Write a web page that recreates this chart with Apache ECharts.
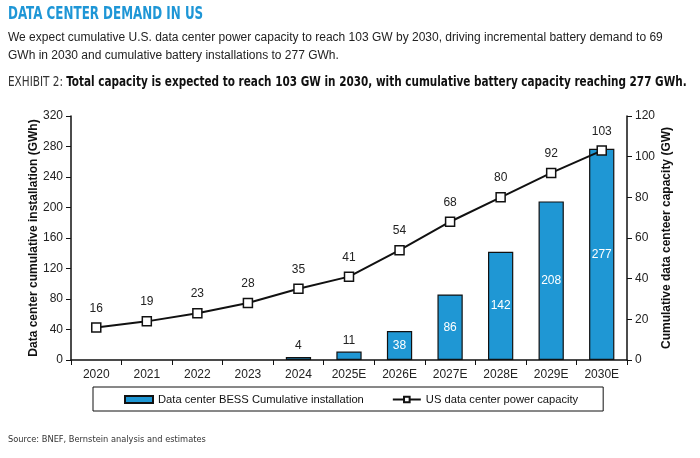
<!DOCTYPE html>
<html>
<head>
<meta charset="utf-8">
<script src="https://cdn.jsdelivr.net/npm/echarts@6/dist/echarts.min.js"></script>
<style>
  html, body { margin: 0; padding: 0; background: #fff; }
  #chart { width: 700px; height: 458px; }
</style>
</head>
<body>
<div id="chart"></div>
<script>
// data
var years = ["2020", "2021", "2022", "2023", "2024", "2025E", "2026E", "2027E", "2028E", "2029E", "2030E"];
var bessGWh = [null, null, null, null, 4, 11, 38, 86, 142, 208, 277];
var powerGW = [16, 19, 23, 28, 35, 41, 54, 68, 80, 92, 103];
var leftTicks = { min: 0, max: 320, interval: 40 };
var rightTicks = { min: 0, max: 120, interval: 20 };

var blue = "#1f97d4";
var font = "Liberation Sans";
var cond = "DejaVu Sans Condensed";

// small bars get their label on top, bigger ones inside in white
var barData = bessGWh.map(function (v) {
  if (v == null) return null;
  if (v < 20) {
    return { value: v, label: { position: "top", color: "#222" } };
  }
  return v;
});

var chart = echarts.init(document.getElementById("chart"));

var option = {
  backgroundColor: "#fff",
  animation: false,
  textStyle: { fontFamily: font },
  // header lines are squeezed a bit to mimic the narrow house font
  graphic: [
    {
      type: "text", left: 8, top: 6, scaleX: 0.78,
      style: {
        text: "DATA CENTER DEMAND IN US",
        fontFamily: cond, fontSize: 17, fontWeight: "bold", fill: "#1e96d6"
      }
    },
    {
      type: "text", left: 8, top: 75, scaleX: 0.831,
      style: {
        text: "{a|EXHIBIT 2: }{b|Total capacity is expected to reach 103 GW in 2030, with cumulative battery capacity reaching 277 GWh.}",
        rich: {
          a: { fontFamily: cond, fontSize: 14, fill: "#333" },
          b: { fontFamily: cond, fontSize: 14, fontWeight: "bold", fill: "#111" }
        }
      }
    }
  ],
  title: [
    {
      text: "We expect cumulative U.S. data center power capacity to reach 103 GW by 2030, driving incremental battery demand to 69\nGWh in 2030 and cumulative battery installations to 277 GWh.",
      left: 8, top: 29, padding: 0,
      textStyle: { fontFamily: font, fontSize: 12, fontWeight: "normal", color: "#222", lineHeight: 18 }
    },
    {
      text: "Source: BNEF, Bernstein analysis and estimates",
      left: 8, top: 435, padding: 0,
      textStyle: { fontFamily: cond, fontSize: 9.2, fontWeight: "normal", color: "#333" }
    }
  ],
  legend: {
    left: 93, top: 387,
    padding: [7, 25, 6, 31],
    itemGap: 28,
    borderColor: "#111", borderWidth: 1,
    itemWidth: 28, itemHeight: 7,
    textStyle: { fontFamily: font, fontSize: 11.2, color: "#111" },
    data: [
      { name: "Data center BESS Cumulative installation", icon: "rect" },
      { name: "US data center power capacity" }
    ]
  },
  grid: { left: 71, right: 73, top: 116, bottom: 98 },
  xAxis: {
    type: "category",
    data: years,
    axisLine: { lineStyle: { color: "#111", width: 1.5 } },
    axisTick: { show: true, alignWithLabel: false, length: 5, lineStyle: { color: "#111" } },
    axisLabel: { color: "#222", fontSize: 12, margin: 9, fontFamily: font }
  },
  yAxis: [
    {
      type: "value",
      min: leftTicks.min, max: leftTicks.max, interval: leftTicks.interval,
      name: "Data center cumulative installation (GWh)",
      nameLocation: "middle", nameGap: 31, nameRotate: 90, nameMoveOverlap: false,
      nameTextStyle: { fontFamily: font, fontSize: 12, fontWeight: "bold", color: "#111" },
      splitLine: { show: false },
      axisLine: { show: true, lineStyle: { color: "#111", width: 1.5 } },
      axisTick: { show: true, length: 5, lineStyle: { color: "#111" } },
      axisLabel: { color: "#222", fontSize: 12, margin: 8, fontFamily: font }
    },
    {
      type: "value",
      position: "right",
      min: rightTicks.min, max: rightTicks.max, interval: rightTicks.interval,
      name: "Cumulative data centeer capacity (GW)",
      nameLocation: "middle", nameGap: 34, nameRotate: 90, nameMoveOverlap: false,
      nameTextStyle: { fontFamily: font, fontSize: 12, fontWeight: "bold", color: "#111" },
      splitLine: { show: false },
      axisLine: { show: true, lineStyle: { color: "#111", width: 1.5 } },
      axisTick: { show: true, length: 5, lineStyle: { color: "#111" } },
      axisLabel: { color: "#222", fontSize: 12, margin: 8, fontFamily: font }
    }
  ],
  series: [
    {
      name: "Data center BESS Cumulative installation",
      type: "bar",
      yAxisIndex: 0,
      barWidth: "50%",
      data: barData,
      itemStyle: { color: blue, borderColor: "#111", borderWidth: 1.2 },
      label: {
        show: true, position: "inside", color: "#fff",
        fontFamily: font, fontSize: 12
      }
    },
    {
      name: "US data center power capacity",
      type: "line",
      yAxisIndex: 1,
      data: powerGW,
      symbol: "rect",
      symbolSize: 9,
      lineStyle: { color: "#111", width: 2 },
      itemStyle: { color: "#fff", borderColor: "#111", borderWidth: 1.5 },
      label: {
        show: true, position: "top", distance: 8, color: "#222",
        fontFamily: font, fontSize: 12
      },
      z: 5
    }
  ]
};

chart.setOption(option);
</script>
</body>
</html>
